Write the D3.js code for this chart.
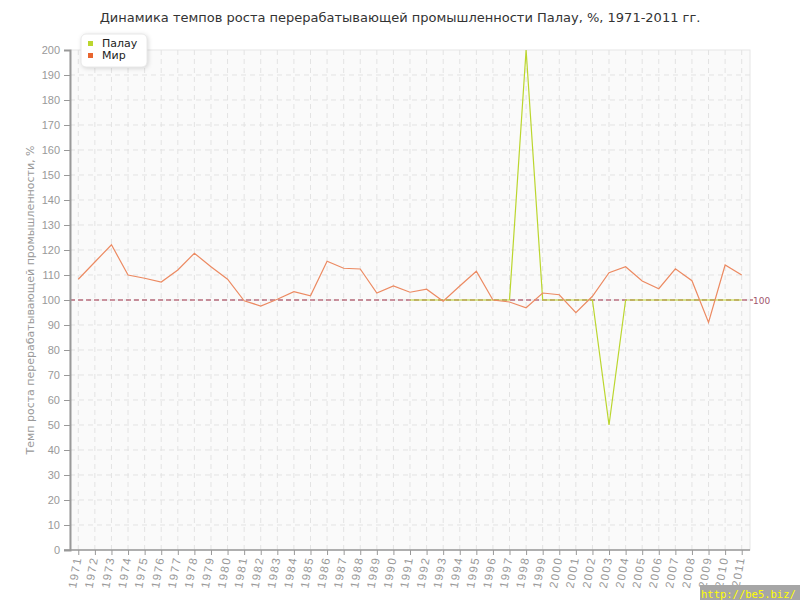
<!DOCTYPE html>
<html>
<head>
<meta charset="utf-8">
<script src="https://cdn.jsdelivr.net/npm/d3@7"></script>
<style>
	body { margin: 0; background: #fff; }
	svg { font-family: "DejaVu Sans", sans-serif; }
</style>
</head>
<body>
<div id="chart"></div>
<script>
// data
var years = d3.range(1971, 2012);
var world = [108.3, 115.2, 122.1, 110, 108.7, 107.2, 112, 118.7, 113.3, 108.3,
	99.7, 97.6, 100.3, 103.3, 101.7, 115.5, 112.7, 112.4, 102.8, 105.6,
	103.1, 104.3, 99.5, 105.6, 111.5, 100, 99.2, 96.9, 102.8, 102.1,
	94.9, 101.5, 110.9, 113.3, 107.6, 104.5, 112.5, 107.7, 91, 114, 110];
// Palau only from 1991
var palauYears = d3.range(1991, 2012);
var palau = [100, 100, 100, 100, 100, 100, 100, 200, 100, 100,
	100, 100, 50, 100, 100, 100, 100, 100, 100, 100, 100];
var yTicks = d3.range(0, 201, 10);
var seriesNames = ["Палау", "Мир"];
var seriesColors = ["#bbd62e", "#e8652f"];

var width = 800,
	height = 600,
	margin = {top: 50, right: 50, bottom: 50, left: 70};

var svg = d3.select("#chart")
	.append("svg")
	.attr("width", width)
	.attr("height", height);

var x = d3.scaleLinear()
	.domain([1970.5, 2011.5])
	.range([margin.left, width - margin.right]);
var y = d3.scaleLinear()
	.domain([0, 200])
	.range([height - margin.bottom, margin.top]);

// plot background
svg.append("rect")
	.attr("x", margin.left)
	.attr("y", margin.top)
	.attr("width", width - margin.left - margin.right)
	.attr("height", height - margin.top - margin.bottom)
	.attr("fill", "#fafafa")
	.attr("stroke", "#e6e6e6");

// grid
svg.append("g")
	.selectAll("line")
	.data(years)
	.enter()
	.append("line")
	.attr("x1", function (d) { return x(d); })
	.attr("x2", function (d) { return x(d); })
	.attr("y1", y(0))
	.attr("y2", y(200))
	.attr("stroke", "#e3e3e3")
	.attr("stroke-dasharray", "5,4");
svg.append("g")
	.selectAll("line")
	.data(yTicks.slice(1, -1))
	.enter()
	.append("line")
	.attr("x1", margin.left)
	.attr("x2", width - margin.right)
	.attr("y1", function (d) { return y(d); })
	.attr("y2", function (d) { return y(d); })
	.attr("stroke", "#e3e3e3")
	.attr("stroke-dasharray", "5,4");

// 100 reference line
svg.append("line")
	.attr("x1", margin.left)
	.attr("x2", width - margin.right + 3)
	.attr("y1", y(100))
	.attr("y2", y(100))
	.attr("stroke", "#9b2a43")
	.attr("stroke-dasharray", "5,3");
svg.append("text")
	.attr("x", width - margin.right + 3)
	.attr("y", y(100) + 4)
	.attr("fill", "#a0566e")
	.style("font-size", "9px")
	.text("100");

// axes
var yAxis = svg.append("g")
	.attr("transform", "translate(" + margin.left + ",0)")
	.call(d3.axisLeft(y).tickValues(yTicks).tickSize(6).tickPadding(4));
var xAxis = svg.append("g")
	.attr("transform", "translate(0," + y(0) + ")")
	.call(d3.axisBottom(x).tickValues(years).tickFormat(d3.format("d")).tickSize(5));
[xAxis, yAxis].forEach(function (a) {
	a.select(".domain").attr("stroke", "#999").attr("stroke-width", 2);
	a.selectAll(".tick line").attr("stroke", "#999");
	a.selectAll("text").attr("fill", "#999").style("font-size", "11px");
});
xAxis.select(".domain").attr("d", "M" + (margin.left - 6) + ",0H" + (width - margin.right)).attr("stroke-width", 1.5);
xAxis.selectAll("text")
	.attr("transform", "rotate(-80)")
	.attr("text-anchor", "end")
	.attr("dx", "-7px")
	.attr("dy", "4px")
	.attr("x", 0)
	.attr("y", 0)
	.style("font-size", "11.5px")
	.style("letter-spacing", "1.5px");

// lines
var line = d3.line()
	.x(function (d) { return x(d[0]); })
	.y(function (d) { return y(d[1]); });

svg.append("path")
	.datum(palauYears.map(function (yr, i) { return [yr, palau[i]]; }))
	.attr("d", line)
	.attr("fill", "none")
	.attr("stroke", seriesColors[0])
	.attr("stroke-width", 1.2);
svg.append("path")
	.datum(years.map(function (yr, i) { return [yr, world[i]]; }))
	.attr("d", line)
	.attr("fill", "none")
	.attr("stroke", "#ec8a62")
	.attr("stroke-width", 1.2);

// title
svg.append("text")
	.attr("x", width / 2)
	.attr("y", 22)
	.attr("text-anchor", "middle")
	.attr("fill", "#333")
	.style("font-size", "13px")
	.text("Динамика темпов роста перерабатывающей промышленности Палау, %, 1971-2011 гг.");

// y label
svg.append("text")
	.attr("transform", "translate(34," + (height / 2) + ") rotate(-90)")
	.attr("text-anchor", "middle")
	.attr("fill", "#999")
	.style("font-size", "11px")
	.text("Темп роста перерабатывающей промышленности, %");

// legend
var legend = svg.append("g");
legend.append("rect")
	.attr("x", 81)
	.attr("y", 34)
	.attr("width", 66)
	.attr("height", 33)
	.attr("rx", 5)
	.attr("fill", "#fff")
	.attr("stroke", "#e8e8e8")
	.style("filter", "drop-shadow(1px 1px 2px rgba(0,0,0,0.15))");
legend.selectAll("rect.key")
	.data(seriesNames)
	.enter()
	.append("rect")
	.attr("class", "key")
	.attr("x", 88)
	.attr("y", function (d, i) { return 41 + i * 12; })
	.attr("width", 5)
	.attr("height", 5)
	.attr("fill", function (d, i) { return seriesColors[i]; });
legend.selectAll("text")
	.data(seriesNames)
	.enter()
	.append("text")
	.attr("x", 102)
	.attr("y", function (d, i) { return 47 + i * 12; })
	.attr("fill", "#222")
	.style("font-size", "11px")
	.text(function (d) { return d; });

// watermark
svg.append("rect")
	.attr("x", 700)
	.attr("y", 585)
	.attr("width", 100)
	.attr("height", 15)
	.attr("fill", "#a6a6a6");
svg.append("text")
	.attr("x", 701)
	.attr("y", 598)
	.attr("fill", "#ffff00")
	.style("font-family", "DejaVu Sans Mono, monospace")
	.style("font-size", "10.5px")
	.text("http://be5.biz/");
</script>
</body>
</html>
